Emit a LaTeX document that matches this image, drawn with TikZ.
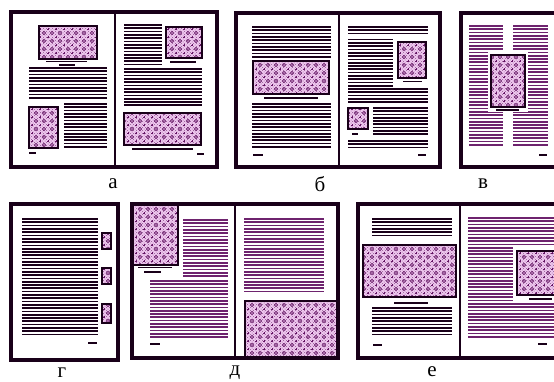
\documentclass[tikz,border=0pt]{standalone}
\usepackage{fontspec}
\setmainfont{Liberation Serif}
\usetikzlibrary{patterns}
\definecolor{ink}{RGB}{25,0,25}
\definecolor{plum}{RGB}{110,35,110}
\definecolor{imgbg}{RGB}{240,200,240}
\definecolor{imgdot}{RGB}{100,20,100}
\pgfdeclarepatternformonly{motif}{\pgfpoint{-1pt}{-1pt}}{\pgfpoint{9pt}{9pt}}{\pgfpoint{8pt}{8pt}}{%
  \pgfsetlinewidth{0.8pt}%
  \pgfpathcircle{\pgfpoint{4pt}{4pt}}{1.6pt}%
  \pgfusepath{stroke}%
  \pgfpathmoveto{\pgfpoint{-1pt}{0pt}}\pgfpathlineto{\pgfpoint{1pt}{0pt}}%
  \pgfpathmoveto{\pgfpoint{0pt}{-1pt}}\pgfpathlineto{\pgfpoint{0pt}{1pt}}%
  \pgfpathmoveto{\pgfpoint{7pt}{0pt}}\pgfpathlineto{\pgfpoint{9pt}{0pt}}%
  \pgfpathmoveto{\pgfpoint{8pt}{-1pt}}\pgfpathlineto{\pgfpoint{8pt}{1pt}}%
  \pgfpathmoveto{\pgfpoint{-1pt}{8pt}}\pgfpathlineto{\pgfpoint{1pt}{8pt}}%
  \pgfpathmoveto{\pgfpoint{0pt}{7pt}}\pgfpathlineto{\pgfpoint{0pt}{9pt}}%
  \pgfpathmoveto{\pgfpoint{7pt}{8pt}}\pgfpathlineto{\pgfpoint{9pt}{8pt}}%
  \pgfpathmoveto{\pgfpoint{8pt}{7pt}}\pgfpathlineto{\pgfpoint{8pt}{9pt}}%
  \pgfusepath{stroke}%
}
\tikzset{
  frame/.style={line width=3.6pt, draw=ink},
  spine/.style={line width=2.2pt, draw=ink},
  tline/.style={line width=1.7pt, draw=ink},
  pline/.style={line width=1.7pt, draw=plum},
  capline/.style={line width=1.8pt, draw=ink},
  picborder/.style={line width=2.6pt, draw=ink},
  lbl/.style={font=\fontsize{21}{21}\selectfont, inner sep=0pt}
}
% \tlines[style]{x1}{x2}{y1}{y2}
\newcommand\tlines[5][tline]{%
  \pgfmathtruncatemacro\nlin{(#5-#4)/3.3}%
  \foreach \i in {0,...,\nlin}{\draw[#1] (#2,{#4+\i*3.3}) -- (#3,{#4+\i*3.3});}%
}
% \picr{x1}{y1}{x2}{y2}
\newcommand\picr[4]{%
  \fill[imgbg] (#1,#2) rectangle (#3,#4);
  \fill[pattern=crosshatch dots, pattern color=imgdot!70] (#1,#2) rectangle (#3,#4);
  \fill[pattern=motif, pattern color=imgdot] (#1,#2) rectangle (#3,#4);
  \draw[picborder] (#1,#2) rectangle (#3,#4);
}
\newcommand\capl[3]{\draw[capline] (#1,#3) -- (#2,#3);}
\begin{document}
\begin{tikzpicture}[x=1pt,y=-1pt]
\useasboundingbox (0,0) rectangle (554,381);
\fill[white] (0,0) rectangle (554,381);
\clip (0,0) rectangle (554,381);

% ---------- a ----------
\picr{39}{26}{97}{59}
\capl{46}{87}{61.5}
\capl{59}{75}{64.8}
\tlines{29}{107}{68}{100}
\tlines{64}{107}{104}{149}
\picr{29}{107}{58}{148}
\capl{29}{36}{153}
\tlines{124}{162}{25}{66}
\picr{166}{27}{202}{58}
\capl{170}{196}{62}
\tlines{124}{202}{69}{107}
\picr{124}{113}{201}{145}
\capl{132}{193}{149}
\capl{197}{204}{154}
\draw[frame] (11,12) rectangle (217,167);
\draw[spine] (115,12) -- (115,167);
\node[lbl] (la) at (113,184) {а};

% ---------- b ----------
\tlines{252}{331}{27}{57}
\picr{253}{61}{329}{94}
\capl{264}{318}{98}
\tlines{252}{331}{104}{149}
\capl{253}{263}{155}
\tlines{348}{428}{27}{36}
\tlines{348}{393}{39.6}{86}
\picr{398}{42}{426}{78}
\capl{403}{422}{81.5}
\tlines{348}{428}{88.8}{104}
\picr{348}{108}{368}{129}
\capl{352}{358}{134}
\tlines{373}{428}{107.8}{137}
\tlines{348}{428}{140.8}{149}
\capl{418}{426}{155}
\draw[frame] (236,13) rectangle (440,167);
\draw[spine] (339,13) -- (339,167);
\node[lbl] (lb) at (320,184) {б};

% ---------- v ----------
\tlines[pline]{469}{503}{26}{148}
\tlines[pline]{513}{548}{26}{148}
\fill[white] (488,52) rectangle (528,112);
\picr{491}{55}{525}{107}
\capl{496}{519}{109.8}
\capl{539}{547}{155}
\draw[frame] (461,13) rectangle (575,167);
\node[lbl] (lv) at (483,184) {в};

% ---------- g ----------
\tlines{22}{98}{219}{337}
\picr{102}{233}{111}{249}
\picr{102}{268}{111}{284}
\picr{102}{304}{111}{323}
\capl{88}{97}{343}
\draw[frame] (11,204) rectangle (118,360);
\node[lbl] (lg) at (62,373) {г};

% ---------- d ----------
\picr{132}{204}{178}{265}
\capl{138}{172}{267.5}
\capl{144}{161}{272.3}
\tlines[pline]{183}{228}{220}{278}
\tlines[pline]{150}{228}{281}{338}
\capl{150}{160}{344}
\tlines[pline]{244}{324}{219}{293}
\picr{245}{301}{338}{358}
\draw[frame] (132,204) rectangle (338,358);
\draw[spine] (235,204) -- (235,358);
\node[lbl] (ld) at (235,373) {д};

% ---------- e ----------
\tlines{372}{452}{219}{237}
\picr{363}{245}{456}{297}
\capl{394}{428}{303}
\tlines{372}{452}{308}{337}
\capl{373}{382}{345}
\tlines[pline]{468}{560}{218}{337}
\fill[white] (513,247) rectangle (560,302);
\picr{517}{251}{566}{295}
\capl{529}{552}{299}
\capl{538}{547}{344}
\draw[frame] (358,204) rectangle (575,358);
\draw[spine] (460,204) -- (460,358);
\node[lbl] (le) at (432,372) {е};
\end{tikzpicture}
\end{document}
